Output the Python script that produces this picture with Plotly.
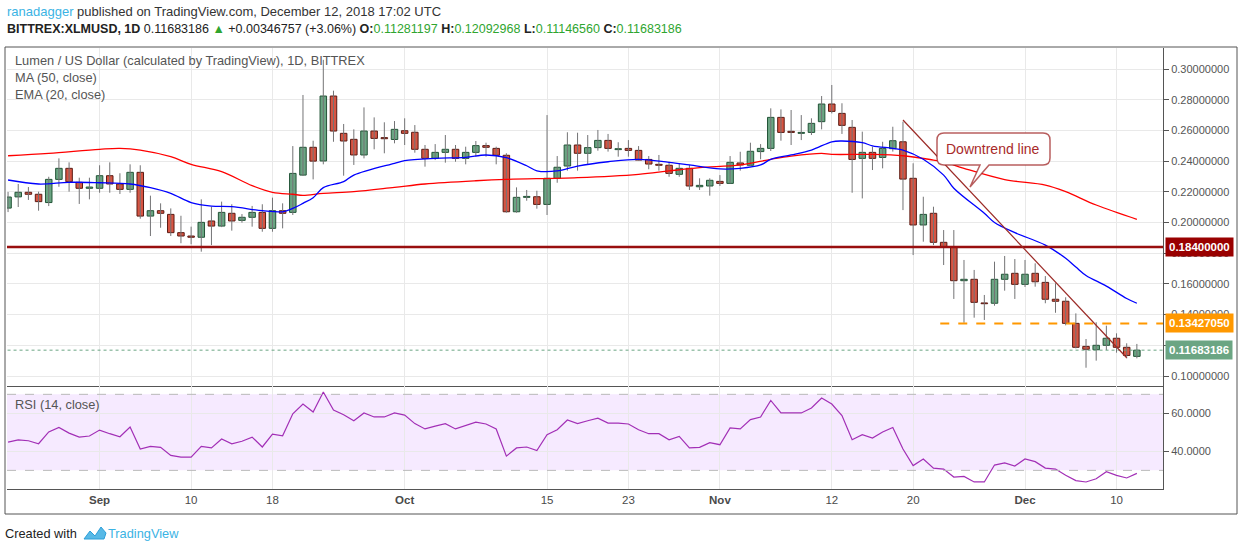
import pandas as pd
import plotly.graph_objects as go
from plotly.subplots import make_subplots

# daily candles, Aug 23 .. Dec 12 2018
opens = [0.2094, 0.2167, 0.2197, 0.2184, 0.2130, 0.2281, 0.2353, 0.2262, 0.2223, 0.2223,
         0.2305, 0.2251, 0.2216, 0.2327, 0.2042, 0.2077, 0.2053, 0.1934, 0.1912, 0.1904,
         0.2010, 0.1977, 0.2060, 0.2014, 0.2034, 0.2066, 0.1962, 0.2077, 0.2066, 0.2309,
         0.2490, 0.2401, 0.2824, 0.2581, 0.2542, 0.2440, 0.2596, 0.2553, 0.2541, 0.2598,
         0.2588, 0.2477, 0.2418, 0.2457, 0.2477, 0.2418, 0.2457, 0.2501, 0.2483, 0.2438,
         0.2070, 0.2164, 0.2168, 0.2118, 0.2288, 0.2368, 0.2505, 0.2451, 0.2488, 0.2535,
         0.2475, 0.2483, 0.2470, 0.2411, 0.2379, 0.2373, 0.2314, 0.2353, 0.2233, 0.2238,
         0.2268, 0.2255, 0.2388, 0.2373, 0.2462, 0.2483, 0.2685, 0.2594, 0.2581, 0.2587,
         0.2657, 0.2772, 0.2711, 0.2620, 0.2418, 0.2457, 0.2424, 0.2481, 0.2526, 0.2288,
         0.1984, 0.2060, 0.1871, 0.1838, 0.1621, 0.1630, 0.1476, 0.1474, 0.1630, 0.1669,
         0.1597, 0.1669, 0.1610, 0.1500, 0.1487, 0.1343, 0.1193, 0.1171, 0.1200, 0.1246,
         0.1187, 0.1128]
highs = [0.2199, 0.2251, 0.2231, 0.2201, 0.2298, 0.2418, 0.2392, 0.2292, 0.2292, 0.2373,
         0.2392, 0.2321, 0.2379, 0.2373, 0.2175, 0.2125, 0.2092, 0.2044, 0.1973, 0.2151,
         0.2103, 0.2136, 0.2119, 0.2055, 0.2108, 0.2119, 0.2162, 0.2125, 0.2498, 0.2831,
         0.2533, 0.3060, 0.2859, 0.2642, 0.2607, 0.2750, 0.2685, 0.2653, 0.2661, 0.2679,
         0.2635, 0.2505, 0.2511, 0.2570, 0.2505, 0.2494, 0.2531, 0.2520, 0.2494, 0.2451,
         0.2229, 0.2212, 0.2207, 0.2700, 0.2433, 0.2588, 0.2585, 0.2570, 0.2603, 0.2577,
         0.2523, 0.2537, 0.2498, 0.2433, 0.2440, 0.2396, 0.2386, 0.2375, 0.2288, 0.2288,
         0.2309, 0.2433, 0.2461, 0.2520, 0.2511, 0.2744, 0.2737, 0.2733, 0.2700, 0.2679,
         0.2824, 0.2896, 0.2777, 0.2668, 0.2592, 0.2494, 0.2526, 0.2624, 0.2657, 0.2386,
         0.2168, 0.2103, 0.1951, 0.1951, 0.1756, 0.1691, 0.1528, 0.1745, 0.1782, 0.1762,
         0.1756, 0.1734, 0.1651, 0.1604, 0.1513, 0.1408, 0.1241, 0.1350, 0.1328, 0.1278,
         0.1213, 0.1209]
lows = [0.2068, 0.2101, 0.2147, 0.2077, 0.2107, 0.2233, 0.2201, 0.2121, 0.2151, 0.2194,
        0.2194, 0.2186, 0.2194, 0.2025, 0.1912, 0.1966, 0.1912, 0.1865, 0.1858, 0.1810,
        0.1853, 0.1970, 0.1947, 0.1999, 0.1973, 0.1940, 0.1940, 0.1962, 0.2049, 0.2303,
        0.2281, 0.2379, 0.2526, 0.2305, 0.2375, 0.2418, 0.2477, 0.2451, 0.2516, 0.2505,
        0.2455, 0.2364, 0.2407, 0.2390, 0.2396, 0.2379, 0.2429, 0.2429, 0.2379, 0.2064,
        0.2064, 0.2142, 0.2090, 0.2049, 0.2259, 0.2338, 0.2338, 0.2375, 0.2468, 0.2462,
        0.2429, 0.2429, 0.2403, 0.2347, 0.2338, 0.2298, 0.2298, 0.2212, 0.2212, 0.2175,
        0.2238, 0.2255, 0.2338, 0.2368, 0.2412, 0.2466, 0.2533, 0.2505, 0.2537, 0.2570,
        0.2607, 0.2711, 0.2577, 0.2194, 0.2157, 0.2342, 0.2353, 0.2462, 0.2081, 0.1788,
        0.1875, 0.1853, 0.1723, 0.1502, 0.1347, 0.1380, 0.1365, 0.1458, 0.1556, 0.1502,
        0.1580, 0.1582, 0.1474, 0.1412, 0.1330, 0.1180, 0.1054, 0.1100, 0.1169, 0.1152,
        0.1115, 0.1115]
closes = [0.2166, 0.2197, 0.2184, 0.2136, 0.2281, 0.2353, 0.2266, 0.2223, 0.2231, 0.2305,
          0.2251, 0.2216, 0.2327, 0.2042, 0.2077, 0.2060, 0.1934, 0.1912, 0.1904, 0.2001,
          0.1977, 0.2066, 0.2010, 0.2034, 0.2066, 0.1962, 0.2077, 0.2060, 0.2320, 0.2490,
          0.2400, 0.2824, 0.2596, 0.2531, 0.2440, 0.2596, 0.2548, 0.2546, 0.2607, 0.2581,
          0.2477, 0.2418, 0.2457, 0.2477, 0.2418, 0.2457, 0.2501, 0.2490, 0.2438, 0.2070,
          0.2164, 0.2170, 0.2118, 0.2288, 0.2360, 0.2505, 0.2451, 0.2488, 0.2535, 0.2483,
          0.2481, 0.2470, 0.2407, 0.2381, 0.2373, 0.2320, 0.2353, 0.2238, 0.2242, 0.2275,
          0.2255, 0.2392, 0.2375, 0.2464, 0.2483, 0.2685, 0.2587, 0.2587, 0.2587, 0.2646,
          0.2772, 0.2724, 0.2633, 0.2411, 0.2457, 0.2418, 0.2483, 0.2533, 0.2283, 0.1984,
          0.2053, 0.1871, 0.1838, 0.1621, 0.1630, 0.1480, 0.1471, 0.1630, 0.1663, 0.1597,
          0.1663, 0.1614, 0.1500, 0.1487, 0.1343, 0.1187, 0.1174, 0.1200, 0.1246, 0.1187,
          0.1134, 0.11683186]
dates = pd.date_range("2018-08-23", periods=len(opens), freq="D")

# RSI (14, close), one value per candle
rsi_values = [44.9, 46.0, 45.6, 44.0, 50.2, 52.6, 49.6, 47.5, 48.1, 51.2,
              49.3, 47.7, 52.8, 41.2, 42.6, 42.1, 37.9, 37.0, 37.0, 42.6,
              41.8, 46.5, 44.0, 45.3, 47.5, 42.3, 49.1, 48.2, 59.8, 64.9,
              60.7, 71.2, 61.8, 59.3, 56.1, 60.2, 58.1, 58.1, 60.2, 59.1,
              54.6, 51.8, 53.3, 54.6, 51.8, 53.5, 55.4, 54.4, 51.8, 37.5,
              41.8, 42.3, 40.4, 48.8, 51.4, 56.5, 54.6, 56.1, 57.5, 54.9,
              54.9, 54.4, 51.4, 49.3, 49.3, 46.1, 47.9, 41.8, 42.1, 44.6,
              43.5, 52.3, 51.8, 56.7, 58.1, 66.8, 60.2, 60.2, 60.2, 62.8,
              68.1, 64.9, 58.8, 46.1, 48.8, 47.0, 50.2, 52.6, 41.2, 32.5,
              36.0, 31.2, 30.7, 26.5, 26.8, 23.9, 23.9, 32.8, 33.9, 32.3,
              36.0, 34.6, 31.2, 30.7, 27.4, 24.6, 23.9, 25.6, 29.3, 27.4,
              26.0, 28.4]

# MA (50, close), sampled from the chart
ma_dates = ["2018-08-23", "2018-08-27", "2018-09-01", "2018-09-03", "2018-09-05", "2018-09-08",
            "2018-09-10", "2018-09-13", "2018-09-16", "2018-09-18", "2018-09-20", "2018-09-21",
            "2018-09-23", "2018-09-26", "2018-09-30", "2018-10-03", "2018-10-08", "2018-10-11",
            "2018-10-18", "2018-10-24", "2018-10-27", "2018-10-30", "2018-11-03", "2018-11-06",
            "2018-11-08", "2018-11-11", "2018-11-12", "2018-11-16", "2018-11-19", "2018-11-22",
            "2018-11-23", "2018-11-25", "2018-11-29", "2018-12-03", "2018-12-05", "2018-12-08",
            "2018-12-12"]
ma_values = [0.2435, 0.2451, 0.2477, 0.2483, 0.2472, 0.2429,
             0.2379, 0.2331, 0.2240, 0.2197, 0.2184, 0.2177,
             0.2190, 0.2201, 0.2229, 0.2251, 0.2272, 0.2281,
             0.2292, 0.2314, 0.2336, 0.2357, 0.2375, 0.2412,
             0.2433, 0.2451, 0.2444, 0.2444, 0.2435, 0.2407,
             0.2396, 0.2353, 0.2280, 0.2244, 0.2201, 0.2114,
             0.2021]

# EMA (20, close), sampled from the chart
ema_dates = ["2018-08-23", "2018-08-26", "2018-08-29", "2018-09-01", "2018-09-04", "2018-09-06",
             "2018-09-08", "2018-09-10", "2018-09-12", "2018-09-14", "2018-09-17", "2018-09-19",
             "2018-09-20", "2018-09-21", "2018-09-22", "2018-09-23", "2018-09-25", "2018-09-26",
             "2018-09-30", "2018-10-01", "2018-10-04", "2018-10-07", "2018-10-09", "2018-10-11",
             "2018-10-13", "2018-10-14", "2018-10-16", "2018-10-18", "2018-10-21", "2018-10-24",
             "2018-10-27", "2018-10-29", "2018-11-01", "2018-11-03", "2018-11-05", "2018-11-06",
             "2018-11-08", "2018-11-10", "2018-11-12", "2018-11-13", "2018-11-15", "2018-11-16",
             "2018-11-18", "2018-11-19", "2018-11-21", "2018-11-23", "2018-11-24", "2018-11-27",
             "2018-11-28", "2018-11-30", "2018-12-03", "2018-12-05", "2018-12-06", "2018-12-07",
             "2018-12-09", "2018-12-11", "2018-12-12"]
ema_values = [0.2277, 0.2251, 0.2262, 0.2259, 0.2251, 0.2227,
              0.2190, 0.2130, 0.2107, 0.2103, 0.2077, 0.2070,
              0.2092, 0.2125, 0.2162, 0.2227, 0.2266, 0.2309,
              0.2386, 0.2403, 0.2418, 0.2425, 0.2440, 0.2422,
              0.2370, 0.2337, 0.2336, 0.2368, 0.2396, 0.2412,
              0.2392, 0.2375, 0.2349, 0.2353, 0.2375, 0.2412,
              0.2440, 0.2472, 0.2526, 0.2531, 0.2520, 0.2500,
              0.2483, 0.2472, 0.2412, 0.2309, 0.2223, 0.2060,
              0.2000, 0.1934, 0.1853, 0.1767, 0.1710, 0.1655,
              0.1586, 0.1505, 0.1474]

# drawings on the chart
trend_dates = ["2018-11-19", "2018-12-11"]
trend_prices = [0.2668, 0.1119]
support_level = 0.18400000
resistance_level = 0.13427050
resistance_start = "2018-11-22 16:00"
last_price = 0.11683186

price_ticks = [0.10, 0.12, 0.14, 0.16, 0.18, 0.20, 0.22, 0.24, 0.26, 0.28, 0.30]
# 0.12 sits fully under the last-price tag, so no text for it
price_labels = ["0.10000000", "", "0.14000000", "0.16000000", "0.18000000", "0.20000000",
                "0.22000000", "0.24000000", "0.26000000", "0.28000000", "0.30000000"]
tick_dates = ["2018-09-01", "2018-09-10", "2018-09-18", "2018-10-01", "2018-10-15", "2018-10-23",
              "2018-11-01", "2018-11-12", "2018-11-20", "2018-12-01", "2018-12-10"]
tick_labels = ["<b>Sep</b>", "10", "18", "<b>Oct</b>", "15", "23",
               "<b>Nov</b>", "12", "20", "<b>Dec</b>", "10"]

UP, UP_EDGE = "#6ba583", "#225437"
DOWN, DOWN_EDGE = "#d75442", "#5b1a13"
FONT = "Liberation Sans, Arial, sans-serif"

fig = make_subplots(rows=2, cols=1, shared_xaxes=True, vertical_spacing=0,
                    row_heights=[0.7664, 0.2336])

# wicks
wx, wy = [], []
for d, h, l in zip(dates, highs, lows):
    wx += [d, d, None]
    wy += [l, h, None]
fig.add_trace(go.Scatter(x=wx, y=wy, mode="lines", line=dict(color="#737375", width=1),
                         hoverinfo="skip"), row=1, col=1)

# bodies
up = [c >= o for o, c in zip(opens, closes)]
fig.add_trace(go.Bar(x=dates, base=opens, y=[c - o for o, c in zip(opens, closes)],
                     width=0.64 * 86400000,
                     marker=dict(color=[UP if u else DOWN for u in up],
                                 line=dict(color=[UP_EDGE if u else DOWN_EDGE for u in up], width=1))),
              row=1, col=1)

fig.add_trace(go.Scatter(x=ma_dates, y=ma_values, mode="lines", line_shape="spline",
                         line=dict(color="#ff0000", width=1.3)), row=1, col=1)
fig.add_trace(go.Scatter(x=ema_dates, y=ema_values, mode="lines", line_shape="spline",
                         line=dict(color="#0000ff", width=1.3)), row=1, col=1)

# horizontal levels
fig.add_trace(go.Scatter(x=["2018-08-20", "2018-12-20"], y=[support_level] * 2, mode="lines",
                         line=dict(color="#990f0f", width=2.5)), row=1, col=1)
fig.add_trace(go.Scatter(x=[resistance_start, "2018-12-20"], y=[resistance_level] * 2, mode="lines",
                         line=dict(color="#ff9800", width=2, dash="dash")), row=1, col=1)
fig.add_trace(go.Scatter(x=["2018-08-20", "2018-12-20"], y=[last_price] * 2, mode="lines",
                         line=dict(color=UP, width=1, dash="dot")), row=1, col=1)
fig.add_trace(go.Scatter(x=trend_dates, y=trend_prices, mode="lines",
                         line=dict(color="#9b2a26", width=1.2)), row=1, col=1)

# RSI
fig.add_trace(go.Scatter(x=dates, y=rsi_values, mode="lines",
                         line=dict(color="#a22fb6", width=1.2)), row=2, col=1)

x_range = ["2018-08-22 21:30", "2018-12-14 13:40"]
fig.update_xaxes(range=x_range, tickvals=tick_dates, ticktext=tick_labels, showgrid=True,
                 gridcolor="#e9e9e9", showline=True, linecolor="#555", linewidth=1,
                 ticks="", zeroline=False, tickfont=dict(family=FONT, size=11.5, color="#4a4a4a"))
fig.update_xaxes(showticklabels=False, row=1, col=1)

fig.update_yaxes(side="right", range=[0.0935, 0.3137], tickvals=price_ticks,
                 ticktext=price_labels, row=1, col=1)
fig.update_yaxes(side="right", range=[20.2, 74.4], tickvals=[40, 60],
                 ticktext=["40.0000", "60.0000"], row=2, col=1)
fig.update_yaxes(showgrid=True, gridcolor="#e9e9e9", showline=True, linecolor="#555",
                 linewidth=1, ticks="outside", ticklen=5, tickcolor="#555", zeroline=False,
                 tickfont=dict(family=FONT, size=11, color="#555"))

# plot-pixel helpers for drawings placed outside data space
L, R, T, B = 7, 1163, 48, 489
def px(x):
    return (x - L) / (R - L)
def py(y):
    return (B - y) / (B - T)

shapes = [
    dict(type="rect", xref="x2 domain", yref="y2", x0=0, x1=1, y0=30, y1=70,
         fillcolor="rgba(153,21,255,0.09)", line_width=0, layer="below"),
    dict(type="line", xref="x2 domain", yref="y2", x0=0, x1=1, y0=70, y1=70,
         line=dict(color="#b9b9b9", width=1, dash="dash")),
    dict(type="line", xref="x2 domain", yref="y2", x0=0, x1=1, y0=30, y1=30,
         line=dict(color="#b9b9b9", width=1, dash="dash")),
    dict(type="rect", xref="paper", yref="paper", x0=px(5), x1=px(1237), y0=py(514), y1=py(47),
         line=dict(color="#555", width=1)),
]
# callout "Downtrend line"
bx0, bx1, by0, by1, r = 937, 1050, 133, 165, 7
path = (f"M {px(bx0 + r)},{py(by0)} L {px(bx1 - r)},{py(by0)} "
        f"Q {px(bx1)},{py(by0)} {px(bx1)},{py(by0 + r)} L {px(bx1)},{py(by1 - r)} "
        f"Q {px(bx1)},{py(by1)} {px(bx1 - r)},{py(by1)} L {px(989)},{py(by1)} "
        f"L {px(970)},{py(187)} L {px(980)},{py(by1)} L {px(bx0 + r)},{py(by1)} "
        f"Q {px(bx0)},{py(by1)} {px(bx0)},{py(by1 - r)} L {px(bx0)},{py(by0 + r)} "
        f"Q {px(bx0)},{py(by0)} {px(bx0 + r)},{py(by0)} Z")
shapes.append(dict(type="path", xref="paper", yref="paper", path=path, fillcolor="white",
                   line=dict(color="rgba(160,40,40,0.75)", width=1.5)))
# TradingView logo (rough)
logo = (f"M {px(84)},{py(539)} L {px(90)},{py(531)} L {px(95)},{py(536)} L {px(101)},{py(527)} "
        f"L {px(106)},{py(533)} L {px(104)},{py(539)} Z")
shapes.append(dict(type="path", xref="paper", yref="paper", path=logo,
                   fillcolor="#58b9e6", line=dict(color="#2d9fd9", width=1)))

green = "#2fa52f"
header2 = ("<b>BITTREX:XLMUSD, 1D</b> 0.11683186 <span style='color:%s'>▲</span> +0.00346757 (+3.06%%) "
           "<b>O:</b><span style='color:%s'>0.11281197</span> <b>H:</b><span style='color:%s'>0.12092968</span> "
           "<b>L:</b><span style='color:%s'>0.11146560</span> <b>C:</b><span style='color:%s'>0.11683186</span>"
           % (green, green, green, green, green))

def note(x, y, text, size=12.5, color="#333", **kw):
    return dict(xref="paper", yref="paper", x=px(x), y=py(y), text=text, showarrow=False,
                xanchor="left", yanchor="middle", font=dict(family=FONT, size=size, color=color), **kw)

annotations = [
    note(5, 12, "<span style='color:#3bb3e4'>ranadagger</span> published on TradingView.com, December 12, 2018 17:02 UTC", 13),
    note(5, 29, header2, 12.5, "#222"),
    note(13, 60, "Lumen / US Dollar (calculated by TradingView), 1D, BITTREX", 12.8, "#555"),
    note(13, 77, "MA (50, close)", 12.8, "#555"),
    note(13, 94, "EMA (20, close)", 12.8, "#555"),
    note(13, 404, "RSI (14, close)", 12.8, "#555"),
    note(3, 533, "Created with", 12.8, "#222"),
    note(106, 533, "TradingView", 12.8, "#3bb3e4"),
    dict(xref="paper", yref="paper", x=px(993), y=py(149), text="Downtrend line", showarrow=False,
         xanchor="center", yanchor="middle", font=dict(family=FONT, size=14, color="#a82a2a")),
]
for val, bg in [(support_level, "#990000"), (resistance_level, "#ff9800"), (last_price, UP)]:
    annotations.append(dict(xref="paper", yref="y", x=1, y=val, xanchor="left", xshift=2,
                            text="<b>%.8f</b>" % val, showarrow=False, bgcolor=bg, borderpad=3,
                            font=dict(family=FONT, size=11.5, color="white")))

fig.update_layout(width=1240, height=551, margin=dict(l=L, r=1240 - R, t=T, b=551 - B),
                  plot_bgcolor="white", paper_bgcolor="white", showlegend=False,
                  barmode="overlay", shapes=shapes, annotations=annotations,
                  hovermode=False)

fig.write_html("out.html", config={"displayModeBar": False},
               post_script="document.body.style.margin='0';document.body.style.overflow='hidden';")
